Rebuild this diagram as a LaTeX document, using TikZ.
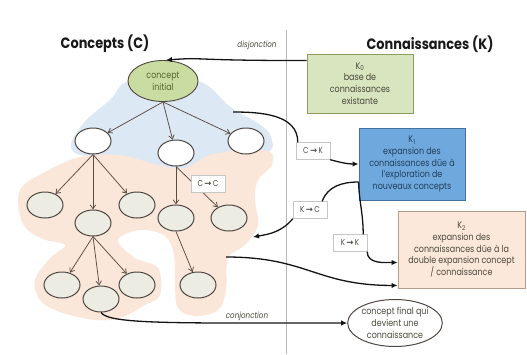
\documentclass[tikz,border=0pt]{standalone}
\usepackage{fontspec}
\setmainfont{Poppins}[FakeStretch=0.84]
\newfontfamily\titlefont{Poppins}[FakeStretch=0.86]
\newfontfamily\arrowfont{DejaVu Sans}
\usetikzlibrary{arrows.meta,shapes.geometric}

\definecolor{blobblue}{HTML}{DCE8F4}
\definecolor{blobpeach}{HTML}{FBE6DA}
\definecolor{seedfill}{HTML}{C9DDA2}
\definecolor{seedtext}{HTML}{56662E}
\definecolor{budfill}{HTML}{EDECE2}
\definecolor{nodeline}{HTML}{4E4640}
\definecolor{branchcol}{HTML}{5A4C44}
\definecolor{kzerofill}{HTML}{D8E5BF}
\definecolor{kzeroline}{HTML}{8C9C5E}
\definecolor{konefill}{HTML}{6FA8DC}
\definecolor{koneline}{HTML}{41729F}
\definecolor{konetext}{HTML}{22405E}
\definecolor{ktwofill}{HTML}{FCE8DB}
\definecolor{ktwoline}{HTML}{B49C8C}
\definecolor{ktext}{HTML}{4A4A3C}
\definecolor{conncol}{HTML}{141414}

\newcommand{\relab}[2]{#1\,{\arrowfont\bfseries →}\,#2}

\begin{document}
\begin{tikzpicture}[x=1pt, y=-1pt,
  txt/.style={font=\fontsize{9.5}{11.8}\selectfont, align=center},
  seed/.style={ellipse, draw=nodeline, fill=seedfill, line width=0.9pt, minimum width=70pt, minimum height=41pt, inner sep=0pt, txt, text=seedtext},
  leaf/.style={ellipse, draw=nodeline, fill=white, line width=1pt, minimum width=36pt, minimum height=26pt, inner sep=0pt},
  bud/.style={leaf, fill=budfill},
  kbox/.style={draw, line width=0.9pt, inner sep=1pt, txt},
  rel/.style={draw=gray!45, fill=white, font=\fontsize{8.5}{10}\selectfont, text=ktext, minimum width=34pt, minimum height=17pt, inner sep=1pt},
  branch/.style={-{Straight Barb[length=4pt,width=5.5pt]}, draw=branchcol, line width=0.75pt},
  conn/.style={-{Latex[length=6pt,width=5.5pt]}, line width=1.3pt, draw=conncol},
  ttl/.style={font=\titlefont\bfseries\fontsize{15}{18}\selectfont, text=black!90},
  tag/.style={font=\itshape\fontsize{8.5}{10}\selectfont, text=ktext}]
  \useasboundingbox (0,0) rectangle (527,354);
  % backgrounds
  \fill[blobblue] plot[smooth cycle, tension=0.7] coordinates {(132,80) (195,80) (232,108) (262,126) (272,140) (268,152) (240,160) (200,168) (170,172) (140,165) (100,158) (72,150) (82,125) (110,100)};
  \fill[blobpeach] plot[smooth cycle, tension=0.6] coordinates {(20,190) (45,172) (80,157) (120,155) (158,165) (185,168) (210,155) (245,150) (270,152) (272,165) (258,180) (255,200) (258,225) (245,245) (228,258) (226,290) (218,310) (195,316) (178,308) (175,285) (174,255) (165,236) (140,230) (118,240) (135,258) (158,268) (160,295) (145,305) (120,318) (95,320) (60,312) (40,300) (35,280) (50,258) (65,245) (40,238) (22,222)};
  \draw[gray!55, line width=0.8pt] (286,30) -- (286,354);
  % titles
  \node[ttl] (tc) at (105,44) {Concepts (C)};
  \node[ttl] (tk) at (430,44) {Connaissances (K)};
  % concept tree
  \node[seed] (init) at (163,81) {concept\\initial};
  \foreach \n/\x/\y in {la/93/141, lb/176/153, lc/246/141}
    \node[leaf] (\n) at (\x,\y) {};
  \foreach \n/\x/\y in {a/45/205, b/93/223, c/137/205, d/176/218, e/229/218, f/62/285, g/101/299, h/137/285, i/198/285}
    \node[bud] (\n) at (\x,\y) {};
  \foreach \s/\t in {init/la, init/lb, init/lc, la/a, la/b, la/c, lb/d, lb/e, b/f, b/g, b/h, d/i}
    \draw[branch] (\s.south) -- (\t);
  % knowledge boxes
  \node[kbox, draw=kzeroline, fill=kzerofill, text=ktext, minimum width=106pt, minimum height=59pt] (K0) at (360,83.5) {K\textsubscript{0}\\base de\\connaissances\\existante};
  \node[kbox, draw=koneline, fill=konefill, text=konetext, minimum width=106pt, minimum height=72pt] (K1) at (412,164) {K\textsubscript{1}\\expansion des\\connaissances dûe à\\l’exploration de\\nouveaux concepts};
  \node[kbox, draw=ktwoline, fill=ktwofill, text=ktext, minimum width=127pt, minimum height=77pt] (K2) at (461.5,249.5) {K\textsubscript{2}\\expansion des\\connaissances dûe à la\\double expansion concept\\/ connaissance};
  \node[leaf, fill=white, minimum width=74pt, minimum height=47pt, txt, text=ktext] (fin) at (395,323) {concept final qui\\devient une\\connaissance};
  % operators
  \node[rel] (CC) at (208,184) {\relab{C}{C}};
  \node[rel] (CK) at (313,151) {\relab{C}{K}};
  \node[rel] (KC) at (310,210) {\relab{K}{C}};
  \node[rel] (KK) at (350,243) {\relab{K}{K}};
  \coordinate (ckfrom) at (233,112);
  \coordinate (pfrom) at (226,257);
  \coordinate (kcto) at (253,237);
  % connectors
  \draw[conn] ([yshift=-7pt]K0.north west) .. controls +(-120,0) and +(40,-3) .. ([xshift=3pt]init.north);
  \node[tag] (dis) at (257,45) {disjonction};
  \draw[conn] (ckfrom) to[out=0,in=90] ([xshift=2pt]CK.north west) (CK.south east) to[out=-15,in=180] (K1.west);
  \draw[conn] ([yshift=-18pt]K1.west) to[out=180,in=70] ([xshift=-5pt]KC.north east) (KC.south west) to[out=-130,in=10] (kcto);
  \draw[conn] ([yshift=-18pt]K1.west) to[out=-88,in=90] ([xshift=-4pt]KK.north east) (KK.south east) to[out=-90,in=180] ([yshift=-13pt]K2.west);
  \draw[conn] (pfrom) to[out=0,in=180,looseness=1.2] ([yshift=3pt]K2.south west);
  \draw[conn] (g.south) .. controls +(8,12) and +(-170,0) .. (fin.west);
  \node[tag] (con) at (247,316) {conjonction};
\end{tikzpicture}
\end{document}
